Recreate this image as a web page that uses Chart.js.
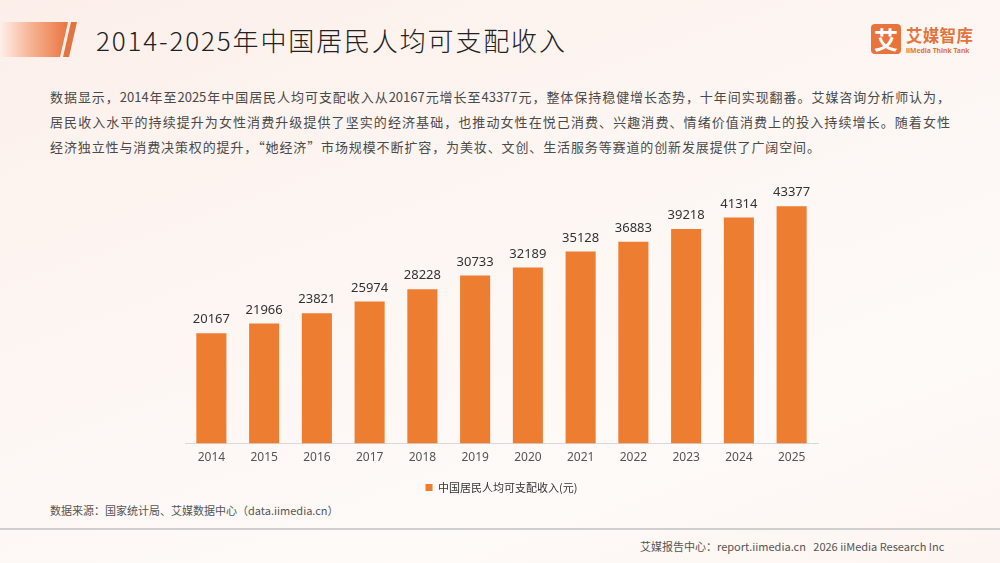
<!DOCTYPE html>
<html>
<head>
<meta charset="utf-8">
<script src="https://cdn.jsdelivr.net/npm/chart.js@4"></script>
<style>
html,body{margin:0;padding:0;}
body{width:1000px;height:563px;position:relative;overflow:hidden;
 background:linear-gradient(160deg,#fcefea 0%,#fdf6f3 40%,#fefaf8 75%,#fdf5f1 100%);
 font-family:"Noto Sans CJK SC","Noto Sans",sans-serif;}
.abs{position:absolute;}
#bar1{left:0;top:22px;width:68px;height:35px;clip-path:polygon(0 0,68px 0,60px 35px,0 35px);
 background:linear-gradient(90deg,#fdf0ea 0%,#f6b494 45%,#ea7440 100%);}
#bar2{left:62px;top:22px;width:16px;height:35px;clip-path:polygon(9px 0,15px 0,7px 35px,1px 35px);background:#e27442;}
#title{left:96px;top:20px;font-size:26px;font-weight:300;line-height:40px;color:#222;letter-spacing:1.85px;white-space:nowrap;}
#logoBox{left:871px;top:24px;width:30px;height:30px;border-radius:4px;background:#e8743b;color:#fff;
 font-size:24px;font-weight:bold;line-height:30px;text-align:center;}
#logoT{left:906px;top:24px;font-size:16.5px;font-weight:bold;color:#e2743c;line-height:22px;letter-spacing:0.3px;white-space:nowrap;}
#logoE{left:906px;top:46px;font-size:6.8px;font-weight:bold;color:#e2743c;font-family:"Noto Sans",sans-serif;white-space:nowrap;}
.para{left:50px;width:900px;font-size:13px;color:#4a4a4a;line-height:25px;white-space:nowrap;}
.just{text-align:justify;text-align-last:justify;}
#src{left:50px;top:500px;font-size:11px;color:#555;line-height:20px;white-space:nowrap;}
#hr{left:0;top:528px;width:1000px;height:2px;background:#cfcfcf;}
#foot{left:640px;top:536px;font-size:11px;color:#555;line-height:20px;white-space:nowrap;}
#wrap{left:0;top:0;width:1000px;height:563px;}
</style>
</head>
<body>
<div class="abs" id="bar1"></div>
<div class="abs" id="bar2"></div>
<div class="abs" id="title">2014-2025年中国居民人均可支配收入</div>
<div class="abs" id="logoBox">艾</div>
<div class="abs" id="logoT">艾媒智库</div>
<div class="abs" id="logoE">iiMedia Think Tank</div>
<div class="abs para just" style="top:84px;">数据显示，2014年至2025年中国居民人均可支配收入从20167元增长至43377元，整体保持稳健增长态势，十年间实现翻番。艾媒咨询分析师认为，</div>
<div class="abs para just" style="top:109px;">居民收入水平的持续提升为女性消费升级提供了坚实的经济基础，也推动女性在悦己消费、兴趣消费、情绪价值消费上的投入持续增长。随着女性</div>
<div class="abs para" style="top:134px;letter-spacing:0.88px;">经济独立性与消费决策权的提升，“她经济”市场规模不断扩容，为美妆、文创、生活服务等赛道的创新发展提供了广阔空间。</div>
<div class="abs" id="src">数据来源：国家统计局、艾媒数据中心（data.iimedia.cn）</div>
<div class="abs" id="hr"></div>
<div class="abs" id="foot">艾媒报告中心：report.iimedia.cn&nbsp;&nbsp;&nbsp;2026 iiMedia Research Inc</div>
<div class="abs" id="wrap"><canvas id="c"></canvas></div>
<script>
const years = ["2014","2015","2016","2017","2018","2019","2020","2021","2022","2023","2024","2025"];
const incomes = [20167,21966,23821,25974,28228,30733,32189,35128,36883,39218,41314,43377];
const seriesName = "中国居民人均可支配收入(元)";

const valueLabels = {
  id:"valueLabels",
  afterDatasetsDraw(chart){
    const {ctx} = chart;
    const meta = chart.getDatasetMeta(0);
    ctx.save();
    ctx.font = '13px "Noto Sans","Noto Sans CJK SC",sans-serif';
    ctx.fillStyle = "#333";
    ctx.textAlign = "center";
    ctx.textBaseline = "bottom";
    meta.data.forEach((bar,i)=>{
      ctx.fillText(String(incomes[i]), bar.x, bar.y - 7);
    });
    ctx.restore();
  }
};

new Chart(document.getElementById("c"),{
  type:"bar",
  data:{labels:years,datasets:[{label:seriesName,data:incomes,backgroundColor:"#ED7D31",
    categoryPercentage:1,barPercentage:0.57}]},
  options:{
    responsive:true,maintainAspectRatio:false,animation:false,
    layout:{padding:{left:185,right:182,top:170,bottom:60}},
    plugins:{
      legend:{position:"bottom",labels:{boxWidth:7,boxHeight:7,padding:10,color:"#333",
        font:{size:11,family:'"Noto Sans CJK SC",sans-serif'}}},
      tooltip:{enabled:false}
    },
    scales:{
      x:{grid:{display:false,drawTicks:false},border:{color:"#d9d9d9",width:1},
        ticks:{color:"#555",padding:7,font:{size:12,family:'"Noto Sans","Noto Sans CJK SC",sans-serif'}}},
      y:{display:false,min:0,max:50000}
    }
  },
  plugins:[valueLabels]
});
</script>
</body>
</html>
